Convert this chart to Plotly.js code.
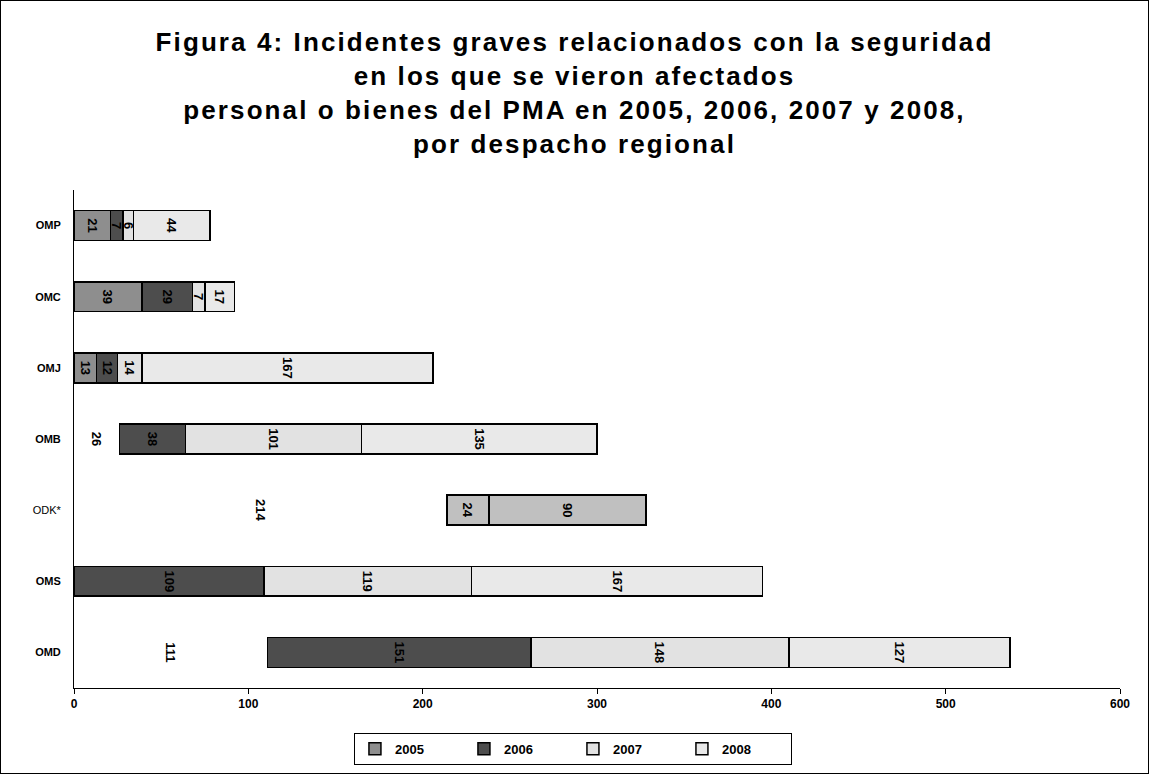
<!DOCTYPE html>
<html>
<head>
<meta charset="utf-8">
<script src="https://cdn.plot.ly/plotly-3.0.1.min.js"></script>
<style>
html,body{margin:0;padding:0;background:#fff;}
#chart{width:1147px;height:772px;border:1px solid #000;}
#chart .gtitle{letter-spacing:2.1px;}
</style>
</head>
<body>
<div id="chart"></div>
<script>
// Data
const categories = ["OMP", "OMC", "OMJ", "OMB", "ODK*", "OMS", "OMD"];
const tickLabels = ["<b>OMP</b>", "<b>OMC</b>", "<b>OMJ</b>", "<b>OMB</b>", "ODK*", "<b>OMS</b>", "<b>OMD</b>"];
const seriesNames = ["2005", "2006", "2007", "2008"];
const s2005 = [21, 39, 13, 26, 214, null, 111];
const s2006 = [7, 29, 12, 38, 24, 109, 151];
const s2007 = [6, 7, 14, 101, 90, 119, 148];
const s2008 = [44, 17, 167, 135, null, 167, 127];

// Styles (kept separate from data)
const baseColors = ["#8e8e8e", "#4d4d4d", "#e2e2e2", "#e9e9e9"];
const hiddenSegments = {"2005": ["OMB", "ODK*", "OMD"]};
const plainGraySegments = {"2006": ["ODK*"], "2007": ["ODK*"]};
const plainGray = "#c0c0c0";

const allSeries = [s2005, s2006, s2007, s2008];
const traces = allSeries.map((vals, i) => {
  const name = seriesNames[i];
  const hidden = hiddenSegments[name] || [];
  const plain = plainGraySegments[name] || [];
  const colors = categories.map(c => hidden.includes(c) ? "rgba(0,0,0,0)" : (plain.includes(c) ? plainGray : baseColors[i]));
  const lw = categories.map(c => hidden.includes(c) ? 0 : 1.5);
  return {
    type: "bar",
    orientation: "h",
    name: "<b>" + name + "</b>",
    y: categories,
    x: vals,
    text: vals.map(v => v == null ? "" : "<b>" + v + "</b>"),
    textposition: "inside",
    insidetextanchor: "middle",
    textangle: 90,
    constraintext: "none",
    textfont: {family: "Liberation Sans, Arial, sans-serif", size: 13, color: "#000"},
    marker: {color: colors, line: {color: "#000", width: lw}},
    hoverinfo: "x+y+name"
  };
});

const layout = {
  width: 1147,
  height: 772,
  barmode: "stack",
  bargap: 0.58,
  paper_bgcolor: "#fff",
  plot_bgcolor: "#fff",
  font: {family: "Liberation Sans, Arial, sans-serif", color: "#000"},
  title: {
    text: "<b>Figura 4: Incidentes graves relacionados con la seguridad<br>en los que se vieron afectados<br>personal o bienes del PMA en 2005, 2006, 2007 y 2008,<br>por despacho regional</b>",
    font: {family: "Liberation Sans, Arial, sans-serif", size: 26, color: "#000"},
    x: 0.5, xanchor: "center",
    y: 0.935, yanchor: "top", yref: "container"
  },
  margin: {l: 73, r: 28, t: 189, b: 85, autoexpand: false},
  xaxis: {
    range: [0, 600],
    dtick: 100,
    showgrid: false,
    zeroline: false,
    showline: true,
    linecolor: "#000",
    linewidth: 1,
    ticks: "outside",
    ticklen: 5,
    tickcolor: "#000",
    tickfont: {size: 12, family: "Liberation Sans, Arial, sans-serif"},
    tickprefix: "<b>", ticksuffix: "</b>"
  },
  yaxis: {
    autorange: "reversed",
    tickmode: "array",
    tickvals: categories,
    ticktext: tickLabels,
    showgrid: false,
    zeroline: false,
    showline: true,
    linecolor: "#000",
    linewidth: 1,
    ticks: "",
    ticklabelstandoff: 10,
    tickfont: {size: 11, family: "Liberation Sans, Arial, sans-serif"}
  },
  legend: {
    orientation: "h",
    x: 0.477, xanchor: "center",
    y: -0.09, yanchor: "top",
    bordercolor: "#000",
    borderwidth: 1,
    traceorder: "normal",
    entrywidth: 64,
    font: {size: 13, family: "Liberation Sans, Arial, sans-serif"}
  },
  showlegend: true
};

Plotly.newPlot("chart", traces, layout, {displayModeBar: false, staticPlot: true});
</script>
</body>
</html>
